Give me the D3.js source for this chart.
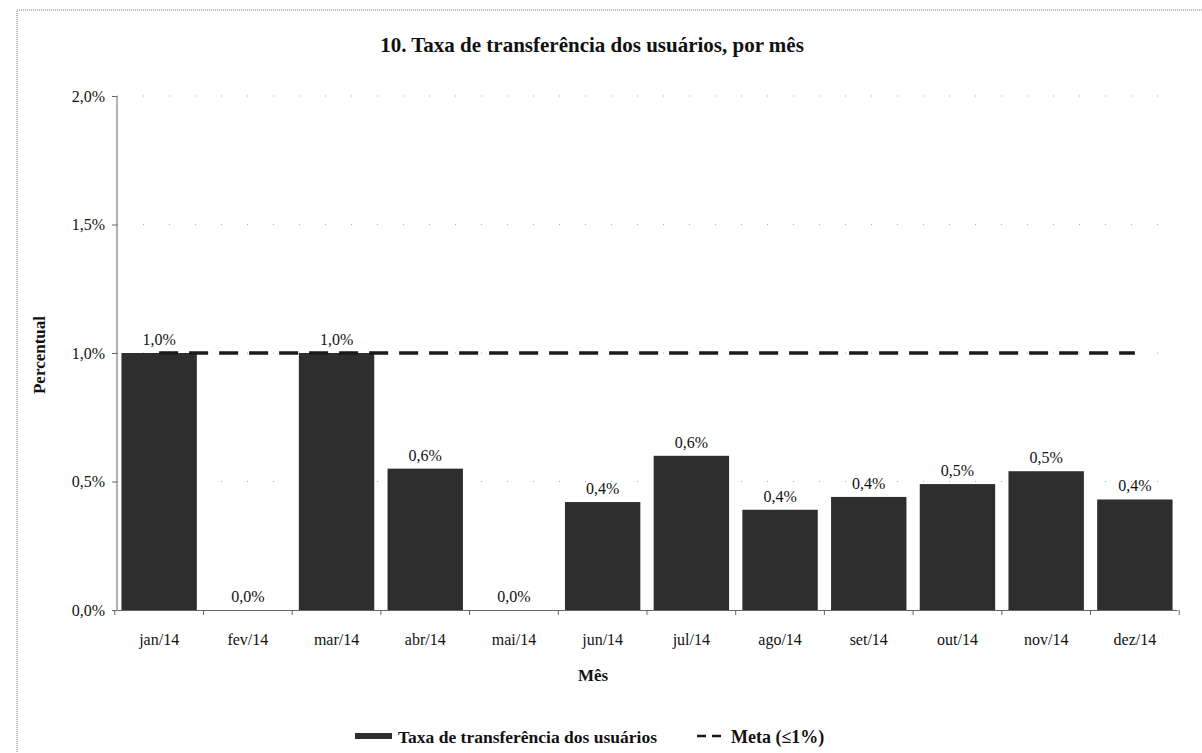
<!DOCTYPE html>
<html>
<head>
<meta charset="utf-8">
<script src="https://cdn.jsdelivr.net/npm/d3@7"></script>
<style>
  body { margin: 0; background: #fff; }
  text { font-family: "Liberation Serif", "DejaVu Serif", serif; fill: #111; }
</style>
</head>
<body>
<div id="chart"></div>
<script>
// months and monthly rate (%)
var months = ["jan/14", "fev/14", "mar/14", "abr/14", "mai/14", "jun/14",
              "jul/14", "ago/14", "set/14", "out/14", "nov/14", "dez/14"];
var taxa = [1.0, 0.0, 1.0, 0.55, 0.0, 0.42, 0.60, 0.39, 0.44, 0.49, 0.54, 0.43];
var meta = [1, 1, 1, 1, 1, 1, 1, 1, 1, 1, 1, 1];
var yTicks = [0, 0.5, 1.0, 1.5, 2.0];

var W = 1202, H = 753;
var mLeft = 117, mRight = 1177, mTop = 96, mBottom = 610;

var pt = d3.formatLocale({decimal: ",", thousands: ".", grouping: [3], currency: ["", ""]});
var fmt = function (v) { return pt.format(".1f")(v) + "%"; };

var svg = d3.select("#chart").append("svg").attr("width", W).attr("height", H);

// dotted outer frame of the scanned chart
svg.append("rect").attr("x", 17).attr("y", 10).attr("width", W).attr("height", H)
  .attr("fill", "none").attr("stroke", "#777").attr("stroke-dasharray", "1,1");

var x = d3.scaleBand().domain(months).range([mLeft, mRight]).paddingInner(0.15).paddingOuter(0.05);
var y = d3.scaleLinear().domain([0, 2]).range([mBottom, mTop]);

// faint gridlines
svg.append("g").selectAll("line").data(yTicks.slice(1)).enter().append("line")
  .attr("x1", mLeft).attr("x2", mRight)
  .attr("y1", function (d) { return y(d); }).attr("y2", function (d) { return y(d); })
  .attr("stroke", "#aaa").attr("stroke-width", 1).attr("stroke-dasharray", "1,25");

// title
svg.append("text").attr("x", 592).attr("y", 52).attr("text-anchor", "middle")
  .attr("font-weight", "bold").attr("font-size", 21)
  .text("10. Taxa de transferência  dos usuários, por mês");

// bars
svg.append("g").selectAll("rect").data(taxa).enter().append("rect")
  .attr("x", function (d, i) { return x(months[i]); })
  .attr("y", function (d) { return y(d); })
  .attr("width", x.bandwidth())
  .attr("height", function (d) { return mBottom - y(d); })
  .attr("fill", "#2e2e2e");

// meta line
var line = d3.line()
  .x(function (d, i) { return x(months[i]) + x.bandwidth() / 2; })
  .y(function (d) { return y(d); });
svg.append("path").datum(meta).attr("d", line)
  .attr("fill", "none").attr("stroke", "#1a1a1a").attr("stroke-width", 3.5)
  .attr("stroke-dasharray", "19,11");

// value labels
svg.append("g").selectAll("text").data(taxa).enter().append("text")
  .attr("x", function (d, i) { return x(months[i]) + x.bandwidth() / 2; })
  .attr("y", function (d) { return y(d) - 8; })
  .attr("text-anchor", "middle").attr("font-size", 16)
  .text(function (d) { return fmt(d); });

// y axis
var yAxis = d3.axisLeft(y).tickValues(yTicks).tickSize(5).tickFormat(fmt);
var gy = svg.append("g").attr("transform", "translate(" + mLeft + ",0)").call(yAxis);
gy.select(".domain").attr("stroke", "#666").attr("d", "M0," + mTop + "V" + mBottom);
gy.selectAll(".tick line").attr("stroke", "#666");
gy.selectAll(".tick text").attr("font-family", "Liberation Serif").attr("font-size", 16)
  .attr("fill", "#111").attr("x", -12);

// x axis
var xAxis = d3.axisBottom(x).tickSize(0).tickPadding(24);
var gx = svg.append("g").attr("transform", "translate(0," + mBottom + ")").call(xAxis);
gx.select(".domain").attr("stroke", "#666");
gx.selectAll(".tick text").attr("font-family", "Liberation Serif").attr("font-size", 16).attr("fill", "#111");
// category separators
var step = x.step();
gx.append("g").selectAll("line").data(d3.range(months.length + 1)).enter().append("line")
  .attr("x1", function (i) { return x(months[0]) - step * 0.15 / 2 + i * step; })
  .attr("x2", function (i) { return x(months[0]) - step * 0.15 / 2 + i * step; })
  .attr("y1", 0).attr("y2", 5).attr("stroke", "#666");

// axis titles
svg.append("text").attr("transform", "translate(45,355) rotate(-90)")
  .attr("text-anchor", "middle").attr("font-weight", "bold").attr("font-size", 17)
  .text("Percentual");
svg.append("text").attr("x", 593).attr("y", 681).attr("text-anchor", "middle")
  .attr("font-weight", "bold").attr("font-size", 17).text("Mês");

// legend
var lg = svg.append("g").attr("transform", "translate(0,737)");
lg.append("rect").attr("x", 355).attr("y", -4).attr("width", 37).attr("height", 6).attr("fill", "#2e2e2e");
lg.append("text").attr("x", 398).attr("y", 6).attr("font-weight", "bold").attr("font-size", 17.5)
  .text("Taxa de transferência dos usuários");
lg.append("line").attr("x1", 697).attr("x2", 726).attr("y1", -1).attr("y2", -1)
  .attr("stroke", "#1a1a1a").attr("stroke-width", 2.5).attr("stroke-dasharray", "9,6");
lg.append("text").attr("x", 731).attr("y", 6).attr("font-weight", "bold").attr("font-size", 18)
  .text("Meta (≤1%)");
</script>
</body>
</html>
